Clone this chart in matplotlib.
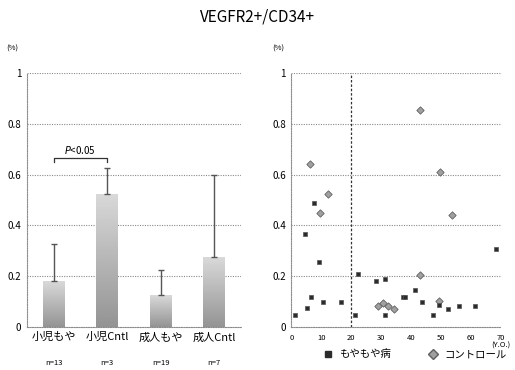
import numpy as np
import matplotlib
matplotlib.use("Agg")
import matplotlib.pyplot as plt
from matplotlib.lines import Line2D

plt.rcParams["font.family"] = ["Noto Sans CJK JP", "DejaVu Sans"]

# ── Data ──────────────────────────────────────────────────────────────────────
groups     = ["小児もや", "小児Cntl", "成人もや", "成人Cntl"]
n_labels   = ["n=13", "n=3", "n=19", "n=7"]
means      = [0.18, 0.525, 0.125, 0.275]
err_top    = [0.325, 0.625, 0.225, 0.60]

# scatter: age (Y.O.) vs VEGFR2+/CD34+ (%)
moya_age = [1.3, 5.3, 6.5, 4.5, 7.5, 9.3, 10.4, 16.6, 21.3, 22.2, 28.3, 31.4,
            31.4, 37.2, 38.0, 41.2, 43.7, 47.4, 49.3, 52.4, 56.2, 61.6, 68.5]
moya_val = [0.045, 0.075, 0.117, 0.367, 0.49, 0.256, 0.097, 0.097, 0.045, 0.207,
            0.179, 0.19, 0.045, 0.118, 0.118, 0.146, 0.097, 0.045, 0.086, 0.068,
            0.083, 0.083, 0.307]
cntl_age = [6.2, 12.3, 9.5, 42.9, 49.8, 53.6, 42.9, 29.1, 30.6, 32.3, 34.2, 49.3]
cntl_val = [0.642, 0.523, 0.45, 0.854, 0.609, 0.44, 0.205, 0.083, 0.093, 0.08,
            0.068, 0.10]

GRID = dict(color="#8a8a8a", linestyle=(0, (1, 1.2)), linewidth=0.8)

fig = plt.figure(figsize=(5.15, 3.7), dpi=100)
fig.text(0.5, 0.955, "VEGFR2+/CD34+", ha="center", va="center", fontsize=11)

ax1 = fig.add_axes([0.052, 0.117, 0.4155, 0.685])
ax2 = fig.add_axes([0.566, 0.117, 0.406, 0.685])


def style_axis(ax):
    ax.set_ylim(0, 1)
    ax.set_yticks([0, 0.2, 0.4, 0.6, 0.8, 1.0])
    ax.set_yticklabels(["0", "0.2", "0.4", "0.6", "0.8", "1"], fontsize=7)
    for y in [0.2, 0.4, 0.6, 0.8, 1.0]:
        ax.axhline(y, zorder=0, **GRID)
    for s in ["top", "right"]:
        ax.spines[s].set_visible(False)
    ax.spines["left"].set_color("#8a8a8a")
    ax.spines["left"].set_linestyle((0, (1, 1.2)))
    ax.spines["bottom"].set_color("#8a8a8a")
    ax.spines["bottom"].set_linestyle((0, (1, 1.2)))
    ax.tick_params(length=0, pad=4)


# ── Left: bar chart ───────────────────────────────────────────────────────────
style_axis(ax1)
x = np.arange(len(groups))
width = 0.41
bars = ax1.bar(x, means, width=width, color="none", edgecolor="none", zorder=2)
grad = np.linspace(0.58, 0.85, 100).reshape(-1, 1)
for b in bars:
    x0, h = b.get_x(), b.get_height()
    im = ax1.imshow(grad, cmap="gray", vmin=0, vmax=1, aspect="auto",
                    extent=[x0, x0 + b.get_width(), 0, h], origin="lower", zorder=2)
    im.set_clip_path(b)
ax1.errorbar(x, means, yerr=[np.zeros(len(means)), np.array(err_top) - np.array(means)],
             fmt="none", ecolor="#555555", elinewidth=1.0, capsize=2, capthick=1.0,
             zorder=3)
ax1.set_xlim(-0.5, 3.5)
ax1.set_aspect("auto")
ax1.set_xticks(x)
ax1.set_xticklabels(groups, fontsize=8)
for xi, n in zip(x, n_labels):
    ax1.text(xi, -0.145, n, ha="center", va="center", fontsize=5.5,
             transform=ax1.get_xaxis_transform())

# significance bracket
ax1.plot([0, 0, 1, 1], [0.648, 0.665, 0.665, 0.648], color="#333333", lw=0.9)
ax1.text(0.5, 0.675, "$P$<0.05", ha="center", va="bottom", fontsize=7)
fig.text(0.012, 0.87, "(%)", fontsize=5.5, va="center")

# ── Right: scatter ────────────────────────────────────────────────────────────
style_axis(ax2)
ax2.set_xlim(0, 70)
ax2.set_xticks([0, 10, 20, 30, 40, 50, 60, 70])
ax2.set_xticklabels(["0", "10", "20", "30", "40", "50", "60", "70"], fontsize=5.5)
ax2.tick_params(axis="x", pad=5)
ax2.axvline(20, color="#333333", linestyle=(0, (2, 1.5)), linewidth=0.9, zorder=1)
ax2.scatter(cntl_age, cntl_val, marker="D", s=14, color="#a0a0a0",
            edgecolors="#606060", linewidths=0.6, zorder=3, clip_on=False)
ax2.scatter(moya_age, moya_val, marker="s", s=10, color="#2b2b2b",
            edgecolors="#555555", linewidths=0.5, zorder=4, clip_on=False)
ax2.text(70, -0.075, "(Y.O.)", ha="center", va="center", fontsize=5.5)
fig.text(0.528, 0.87, "(%)", fontsize=5.5, va="center")

handles = [Line2D([], [], marker="s", linestyle="none", markersize=5,
                  color="#2b2b2b", label="もやもや病"),
           Line2D([], [], marker="D", linestyle="none", markersize=5,
                  markerfacecolor="#a0a0a0", markeredgecolor="#606060",
                  label="コントロール")]
fig.legend(handles=handles, loc="center", bbox_to_anchor=(0.8, 0.042), ncol=2,
           frameon=False, fontsize=7.5, handletextpad=0.1, columnspacing=3.0)

fig.savefig("out.png", dpi=100)
